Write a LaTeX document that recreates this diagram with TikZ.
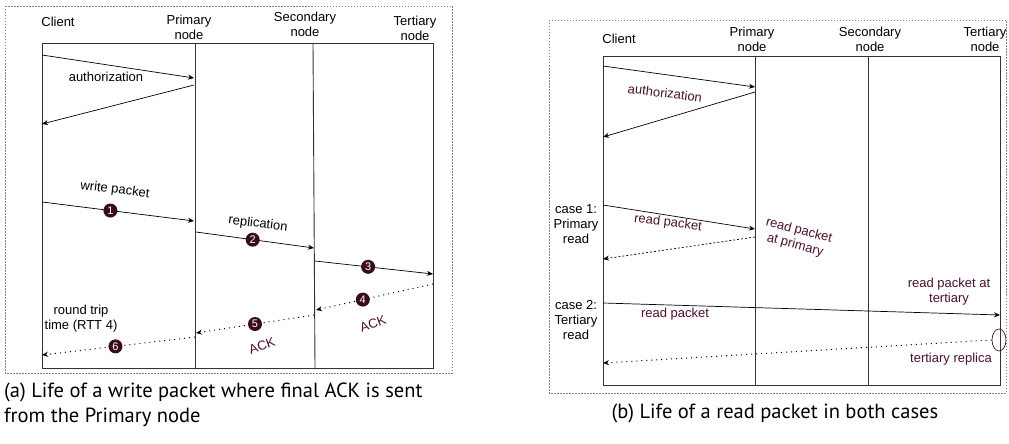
\documentclass[tikz,border=0pt]{standalone}
\usepackage{fontspec}
\setmainfont{Liberation Sans}
\newfontfamily\capfont{PT Sans}
\usetikzlibrary{arrows.meta,shapes.geometric}
\definecolor{wine}{HTML}{4A1030}
\definecolor{plum}{HTML}{3A0A1E}

\begin{document}
\begin{tikzpicture}[x=1pt,y=-1pt]
		\tikzset{lbl/.style = {font=\fontsize{13}{15}\selectfont, align=center, inner sep=0pt},
			wlbl/.style = {lbl, text=wine},
			num/.style = {circle, fill=plum, text=white, inner sep=0pt, minimum size=14pt, font=\fontsize{11}{11}\selectfont},
			msg/.style = {-{Stealth[length=6pt,width=5pt]}, line width=0.7pt},
			ackmsg/.style = {msg, line width=1pt, dash pattern=on 1pt off 4pt},
			panel/.style = {gray, line width=0.5pt, dash pattern=on 1.5pt off 1.5pt},
			life/.style = {draw=black!80, line width=0.9pt},
			caption/.style = {font=\capfont\fontsize{20.5}{25}\selectfont, inner sep=0pt}}
		\useasboundingbox (0,0) rectangle (1009,444);
		% (a) write packet
		\draw[panel] (5,6) rectangle (452,373);
		\draw[life] (42,43) rectangle (433,368);
		\draw[life] (195,43) -- (195,368);
		\draw[life] (313,43) -- (315,368);
		\node[lbl] (cl) at (58,22) {Client};
		\node[lbl] (pr) at (189,27) {Primary\\ node};
		\node[lbl] (se) at (305,24) {Secondary\\ node};
		\node[lbl] (te) at (415,28) {Tertiary\\ node};
		\coordinate (a1) at (42,55);   \coordinate (a2) at (194,78);
		\coordinate (a3) at (194,85);  \coordinate (a4) at (42,124);
		\coordinate (w1) at (42,202);  \coordinate (w2) at (194,221);
		\coordinate (w3) at (196,232); \coordinate (w4) at (314,248);
		\coordinate (w5) at (315,261); \coordinate (w6) at (433,274);
		\coordinate (k1) at (433,284); \coordinate (k2) at (316,310);
		\coordinate (k3) at (314,315); \coordinate (k4) at (196,333);
		\coordinate (k5) at (195,337); \coordinate (k6) at (42,355);
		\draw[msg] (a1) -- (a2);
		\draw[msg] (a3) -- (a4);
		\node[lbl] (auth) at (106,77) {authorization};
		\draw[msg] (w1) -- node[num, pos=0.45] (n1) {1} (w2);
		\draw[msg] (w3) -- node[num, pos=0.48] (n2) {2} (w4);
		\draw[msg] (w5) -- node[num, pos=0.45] (n3) {3} (w6);
		\draw[ackmsg] (k1) -- node[num, pos=0.6] (n4) {4} (k2);
		\draw[ackmsg] (k3) -- node[num, pos=0.5] (n5) {5} (k4);
		\draw[ackmsg] (k5) -- node[num, pos=0.52] (n6) {6} (k6);
		\node[lbl, rotate=-7] (wp) at (115,190) {write packet};
		\node[lbl, rotate=-7] (rep) at (258,224) {replication};
		\node[wlbl, rotate=20] (ack1) at (373,324) {ACK};
		\node[wlbl, rotate=20] (ack2) at (262,346) {ACK};
		\node[lbl] (rtt) at (81,319) {round trip\\ time (RTT 4)};
		\node[caption, anchor=north west, align=left] (capa) at (4,383)
			{(a) Life of a write packet where final ACK is sent\\ from the Primary node};
		% (b) read packet
		\draw[panel] (549,20) rectangle (1006,393);
		\draw[life] (603,56) rectangle (1000,385);
		\draw[life] (755,56) -- (755,385);
		\draw[life] (868,56) -- (868,385);
		\node[lbl] (cl2) at (619,39) {Client};
		\node[lbl] (pr2) at (752,39) {Primary\\ node};
		\node[lbl] (se2) at (870,39) {Secondary\\ node};
		\node[lbl] (te2) at (985,39) {Tertiary\\ node};
		\coordinate (b1) at (603,66);  \coordinate (b2) at (755,87);
		\coordinate (b3) at (755,92);  \coordinate (b4) at (603,137);
		\coordinate (r1) at (603,205); \coordinate (r2) at (755,229);
		\coordinate (r3) at (755,237); \coordinate (r4) at (603,259);
		\coordinate (t1) at (603,303); \coordinate (t2) at (1000,315);
		\coordinate (t4) at (603,363);
		\draw[msg] (b1) -- (b2);
		\draw[msg] (b3) -- (b4);
		\node[wlbl, rotate=-7] (auth2) at (665,93) {authorization};
		\draw[msg] (r1) -- (r2);
		\draw[msg, dash pattern=on 2pt off 2pt] (r3) -- (r4);
		\node[wlbl, rotate=-7] (rp1) at (668,223) {read packet};
		\node[wlbl, rotate=-15] (rpp) at (797,238) {read packet\\ at primary};
		\node[lbl] (case1) at (576,224) {case 1:\\ Primary\\ read};
		\node[lbl] (case2) at (576,320) {case 2:\\ Tertiary\\ read};
		\draw[msg] (t1) -- (t2);
		\node[wlbl] (rp2) at (675,314) {read packet};
		\node[wlbl] (rpt) at (949,292) {read packet at\\ tertiary};
		\node[draw=wine, line width=0.7pt, ellipse, minimum width=14pt, minimum height=22pt, inner sep=0pt] (rep2) at (999,340) {};
		\draw[ackmsg] (rep2.west) -- (t4);
		\node[wlbl] (trep) at (951,359) {tertiary replica};
		\node[caption] (capb) at (775,413) {(b) Life of a read packet in both cases};
		\end{tikzpicture}
\end{document}
